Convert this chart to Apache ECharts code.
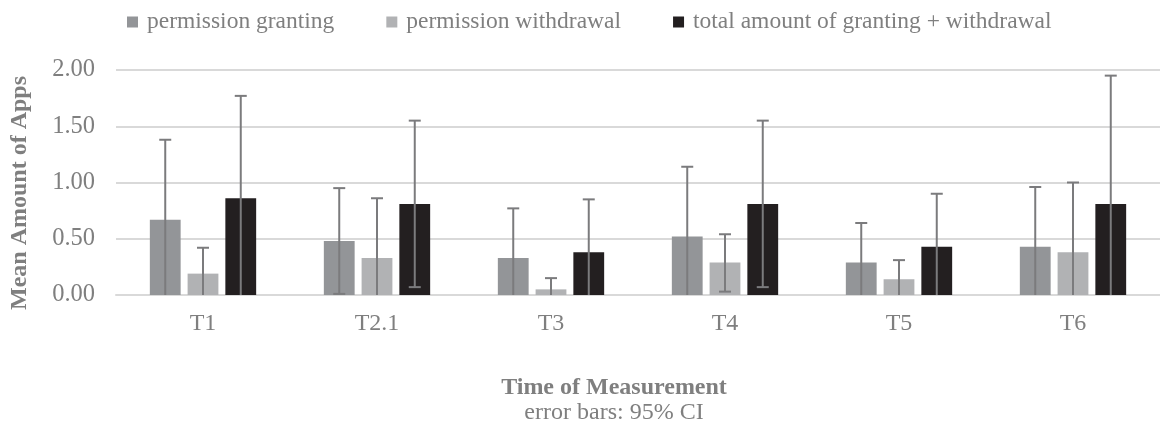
<!DOCTYPE html>
<html>
<head>
<meta charset="utf-8">
<script src="https://cdn.jsdelivr.net/npm/echarts@6/dist/echarts.min.js"></script>
<style>html,body{margin:0;padding:0;background:#fff}#c{width:1160px;height:428px}</style>
</head>
<body>
<div id="c"></div>
<script>
var categories = ['T1', 'T2.1', 'T3', 'T4', 'T5', 'T6'];
var seriesNames = ['permission granting', 'permission withdrawal', 'total amount of granting + withdrawal'];
var granting = [0.67, 0.48, 0.33, 0.52, 0.29, 0.43];
var withdrawal = [0.19, 0.33, 0.05, 0.29, 0.14, 0.38];
var total = [0.86, 0.81, 0.38, 0.81, 0.43, 0.81];
var grantingHigh = [1.38, 0.95, 0.77, 1.14, 0.64, 0.96];
var withdrawalHigh = [0.42, 0.86, 0.15, 0.54, 0.31, 1.00];
var totalHigh = [1.77, 1.55, 0.85, 1.55, 0.90, 1.95];
// lower CI bounds; 0 = bar extends below the axis (clipped, no cap drawn)
var grantingLow = [0, 0.01, 0, 0, 0, 0];
var withdrawalLow = [0, 0, 0, 0.03, 0, 0];
var totalLow = [0, 0.07, 0, 0.07, 0, 0];
var yTicks = [0, 0.5, 1, 1.5, 2];

var colors = ['#939598', '#b1b2b4', '#231f20'];
var means = [granting, withdrawal, total];
var highs = [grantingHigh, withdrawalHigh, totalHigh];
var lows = [grantingLow, withdrawalLow, totalLow];
var BAR_RATIO = 0.177, GAP_RATIO = 0.226;
var FONT = '"Liberation Serif", "Times New Roman", serif';
var TXT = '#7f7f7f';

var series = [];
seriesNames.forEach(function (n, i) {
  series.push({
    name: n, type: 'bar', data: means[i],
    barWidth: (BAR_RATIO * 100) + '%', barGap: (GAP_RATIO * 100) + '%',
    itemStyle: { color: colors[i] }, z: 2
  });
});
seriesNames.forEach(function (n, i) {
  var d = categories.map(function (c, k) { return [k, lows[i][k], highs[i][k]]; });
  series.push({
    type: 'custom', data: d, z: 5, silent: true,
    encode: { x: 0, y: [1, 2] },
    renderItem: function (params, api) {
      var k = api.value(0), lo = api.value(1), hi = api.value(2);
      var band = api.size([1, 0])[0];
      var bw = band * BAR_RATIO, gap = bw * GAP_RATIO;
      var off = (i - 1) * (bw + gap);
      var pHi = api.coord([k, hi]);
      var pLo = api.coord([k, lo]);
      var x = pHi[0] + off;
      var st = { stroke: '#7b7b7d', lineWidth: 2 };
      var kids = [
        { type: 'line', shape: { x1: x, y1: pHi[1], x2: x, y2: pLo[1] }, style: st },
        { type: 'line', shape: { x1: x - 6, y1: pHi[1], x2: x + 6, y2: pHi[1] }, style: st }
      ];
      if (lo > 0) kids.push({ type: 'line', shape: { x1: x - 6, y1: pLo[1], x2: x + 6, y2: pLo[1] }, style: st });
      return { type: 'group', children: kids };
    }
  });
});

var chart = echarts.init(document.getElementById('c'));
chart.setOption({
  animation: false,
  textStyle: { fontFamily: FONT },
  legend: {
    data: seriesNames, left: 122, top: 5, itemWidth: 11, itemHeight: 11, itemGap: 52,
    icon: 'rect',
    textStyle: { fontFamily: FONT, fontSize: 23.5, color: TXT, padding: [0, 0, 0, 4] }
  },
  grid: { left: 116, width: 1050, top: 70, height: 225, containLabel: false },
  xAxis: {
    type: 'category', data: categories,
    axisTick: { show: false },
    axisLine: { lineStyle: { color: '#d9d9d9', width: 2 } },
    axisLabel: { fontFamily: FONT, fontSize: 24, color: TXT, margin: 17 }
  },
  yAxis: {
    type: 'value', min: yTicks[0], max: yTicks[yTicks.length - 1], interval: yTicks[1] - yTicks[0],
    axisLine: { show: false }, axisTick: { show: false },
    axisLabel: { fontFamily: FONT, fontSize: 24.5, color: TXT, margin: 21,
      formatter: function (v) { return v.toFixed(2); } },
    splitLine: { lineStyle: { color: '#d9d9d9', width: 2 } }
  },
  graphic: [
    { type: 'text', x: 20, y: 193, rotation: Math.PI / 2, style: { text: 'Mean Amount of Apps', fontFamily: FONT, fontSize: 24, fontWeight: 'bold', fill: TXT, align: 'center', verticalAlign: 'middle' } },
    { type: 'text', x: 614, y: 388, style: { text: 'Time of Measurement', fontFamily: FONT, fontSize: 24, fontWeight: 'bold', fill: TXT, align: 'center', verticalAlign: 'middle' } },
    { type: 'text', x: 614, y: 413, style: { text: 'error bars: 95% CI', fontFamily: FONT, fontSize: 24, fill: TXT, align: 'center', verticalAlign: 'middle' } }
  ],
  series: series
});
</script>
</body>
</html>
